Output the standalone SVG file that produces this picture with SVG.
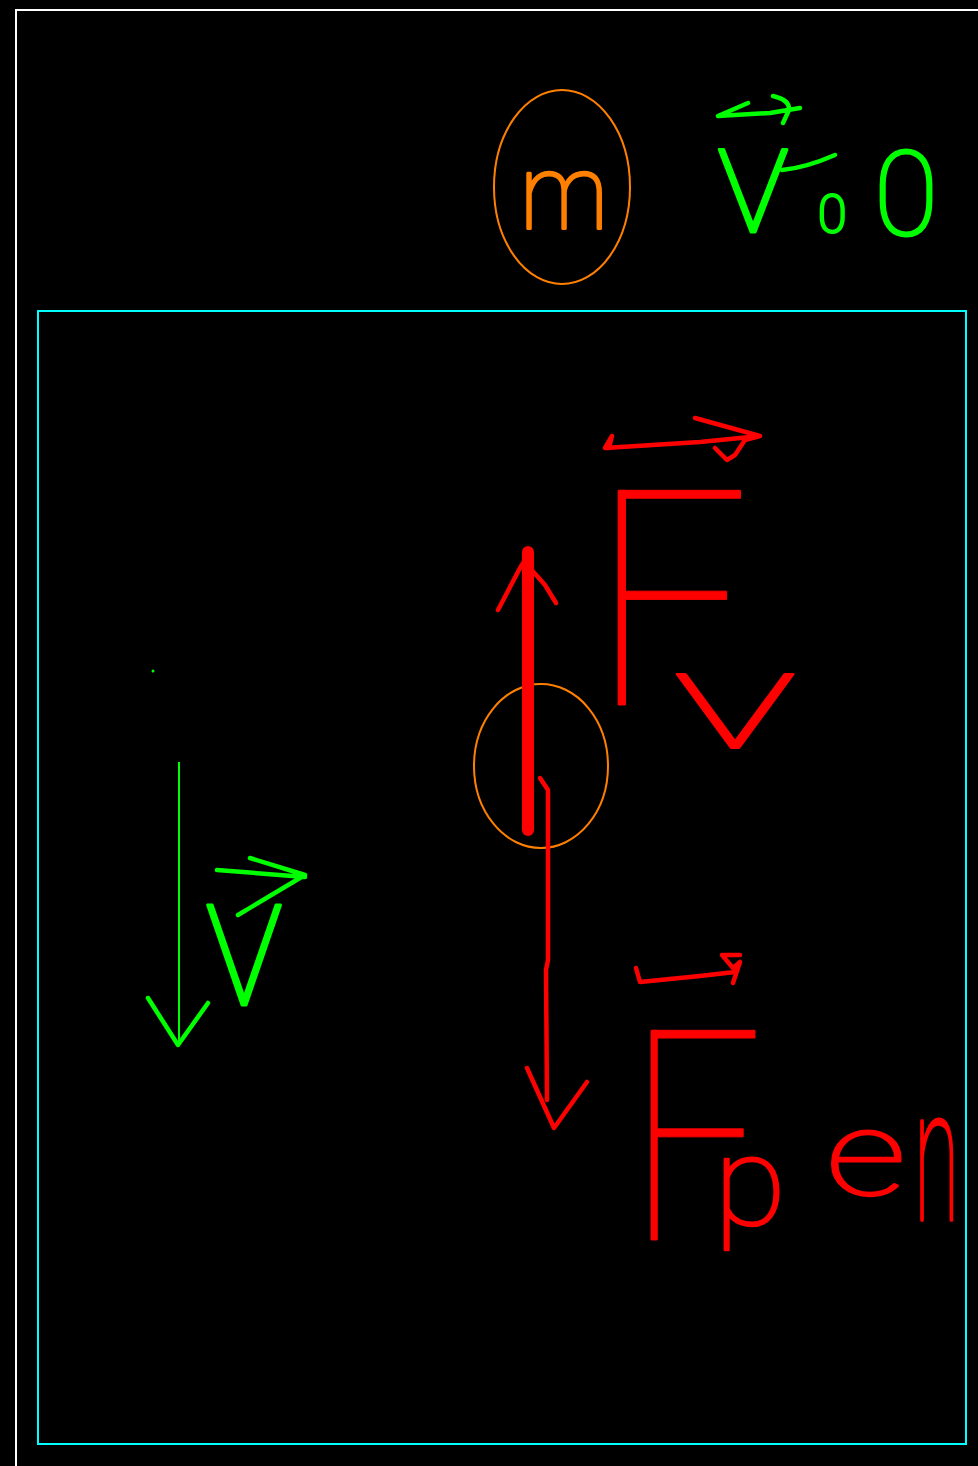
<svg xmlns="http://www.w3.org/2000/svg" width="978" height="1466" viewBox="0 0 978 1466">
<style>
.hand{font-family:Roboto,Inter,Lato,"Liberation Sans",sans-serif;font-weight:100;stroke-linejoin:round}
.r{fill:#ff0000;stroke:#ff0000}
.g{fill:#00ff00;stroke:#00ff00}
.o{fill:#ff8000;stroke:#ff8000}
.big{letter-spacing:-100px}
.sr{fill:none;stroke:#ff0000;stroke-width:4.5;stroke-linecap:round;stroke-linejoin:round}
.sg{fill:none;stroke:#00ff00;stroke-width:4.5;stroke-linecap:round;stroke-linejoin:round}
</style>
<rect width="978" height="1466" fill="#000"/>
<g id="frame">
<path d="M16,1466 V10 H978" fill="none" stroke="#fff" stroke-width="2"/>
</g>
<g id="container">
<rect x="38" y="311" width="928" height="1133" fill="none" stroke="#00ffff" stroke-width="2"/>
</g>
<g id="mass-top">
<ellipse cx="562" cy="187" rx="68" ry="97" fill="none" stroke="#ff8000" stroke-width="2"/>
<text class="hand o" x="520" y="228" font-size="104" stroke-width="3" textLength="88" lengthAdjust="spacingAndGlyphs">m</text>
</g>
<g id="v0-label">
<path class="sg" d="M748,103 L718,116 L770,113 L800,108 M773,96 Q790,100 789,110 L783,123"/>
<path class="sg" d="M782,170 Q805,168 835,155"/>
<text class="hand g" stroke-width="3"><tspan x="716" y="232" font-size="155">v</tspan><tspan x="818" y="232" font-size="52">0</tspan><tspan x="874" y="235" font-size="117">0</tspan></text>
</g>
<g id="body">
<ellipse cx="541" cy="766" rx="67" ry="82" fill="none" stroke="#ff8000" stroke-width="2"/>
</g>
<g id="connectors">
<line x1="528" y1="552" x2="528" y2="830" stroke="#ff0000" stroke-width="12" stroke-linecap="round"/>
<path class="sr" d="M498,610 L520,568 L528,555 M530,568 L545,585 L556,603"/>
<path class="sr" d="M540,778 L548,790 L548,960 L546,970 L547,1100 M527,1068 L554,1128 L587,1082"/>
<line x1="179" y1="762" x2="179" y2="1045" stroke="#00ff00" stroke-width="2"/>
<path class="sg" d="M148,998 L178,1045 L208,1003"/>
<circle cx="153" cy="671" r="1.5" fill="#00ff00"/>
</g>
<g id="F-n-label">
<path class="sr" d="M609,448 L612,436 L605,448 L700,442 L760,436 M695,418 L760,436 L745,440 L735,455 L727,460 L715,448"/>
<text class="hand r big" transform="translate(591,705) scale(0.92,1)" font-size="302" stroke-width="1">F</text>
<text class="hand r" x="672" y="748" font-size="140" stroke-width="2" textLength="126" lengthAdjust="spacingAndGlyphs">v</text>
</g>
<g id="F-pen-label">
<path class="sr" d="M636,968 L640,982 L700,976 L735,972 M740,955 L722,955 L733,968 L740,962 L733,983"/>
<text class="hand r big" transform="translate(628,1240) scale(0.8,1)" font-size="295" stroke-width="1">F</text>
<text class="hand r" stroke-width="2.5"><tspan x="714" y="1225" font-size="125" textLength="72" lengthAdjust="spacingAndGlyphs">p</tspan><tspan x="826" y="1195" font-size="118" textLength="80" lengthAdjust="spacingAndGlyphs">e</tspan></text>
<text class="hand r" transform="translate(914,1220) scale(0.75,1.7)" font-size="110" stroke-width="2">n</text>
</g>
<g id="v-label">
<path class="sg" d="M217,870 L305,877 M250,858 L305,875 L238,915"/>
<text class="hand g" x="204" y="1005" font-size="190" stroke-width="3" textLength="80" lengthAdjust="spacingAndGlyphs">v</text>
</g>
</svg>
